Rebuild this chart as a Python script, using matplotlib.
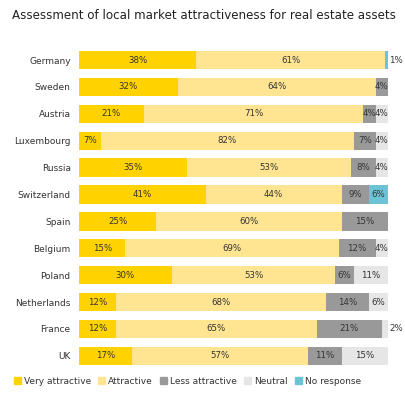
import matplotlib.pyplot as plt
from matplotlib.patches import Patch

countries = ['Germany', 'Sweden', 'Austria', 'Luxembourg', 'Russia', 'Switzerland',
             'Spain', 'Belgium', 'Poland', 'Netherlands', 'France', 'UK']
very_attractive = [38, 32, 21, 7, 35, 41, 25, 15, 30, 12, 12, 17]
attractive = [61, 64, 71, 82, 53, 44, 60, 69, 53, 68, 65, 57]
less_attractive = [0, 4, 4, 7, 8, 9, 15, 12, 6, 14, 21, 11]
neutral = [0, 0, 4, 4, 4, 0, 0, 4, 11, 6, 2, 15]
no_response = [1, 0, 0, 0, 0, 6, 0, 0, 0, 0, 0, 0]

series = [very_attractive, attractive, less_attractive, neutral, no_response]
names = ['Very attractive', 'Attractive', 'Less attractive', 'Neutral', 'No response']
colors = ['#FFD200', '#FFE591', '#999999', '#E6E6E6', '#6CC3D5']

plt.rcParams['font.family'] = 'DejaVu Sans'
txt = '#333333'

fig = plt.figure(figsize=(4.05, 3.95), dpi=100)
ax = fig.add_axes([0.195, 0.065, 0.763, 0.817])

y = list(range(len(countries)))
left = [0] * len(countries)
for vals, name, col in zip(series, names, colors):
    ax.barh(y, vals, left=left, height=0.68, color=col, label=name)
    for i, v in enumerate(vals):
        if v == 0:
            continue
        if v < 3:
            ax.text(left[i] + v + 0.3, i, f'{v}%', va='center', ha='left', fontsize=6.2, color=txt)
        else:
            ax.text(left[i] + v / 2, i, f'{v}%', va='center', ha='center', fontsize=6.2, color=txt)
    left = [l + v for l, v in zip(left, vals)]

ax.set_xlim(0, 100)
ax.set_ylim(len(countries) - 0.5, -0.5)
ax.set_yticks(y)
ax.set_yticklabels(countries, fontsize=6.5, color=txt)
ax.tick_params(axis='y', length=0, pad=6)
ax.set_xticks([])
for s in ax.spines.values():
    s.set_visible(False)

fig.text(0.03, 0.962, 'Assessment of local market attractiveness for real estate assets',
         fontsize=8.6, fontweight='medium', color='#222222', va='center', ha='left')

handles = [Patch(color=c, label=n) for n, c in zip(names, colors)]
fig.legend(handles=handles, loc='center left', bbox_to_anchor=(0.025, 0.035), ncol=5,
           frameon=False, fontsize=6.5, handlelength=0.8, handleheight=0.8,
           handletextpad=0.3, columnspacing=0.8, borderaxespad=0, labelcolor=txt)

fig.savefig('out.png', dpi=100)
